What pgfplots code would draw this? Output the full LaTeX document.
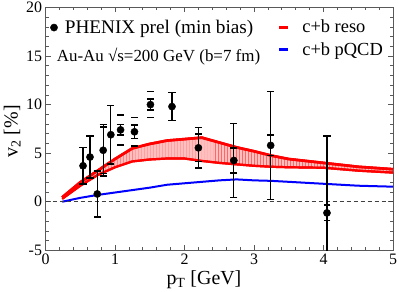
\documentclass[border=0pt]{standalone}
\usepackage{fontspec}
\setmainfont{Liberation Serif}
\usepackage{pgfplots}
\usepackage{pgfplotstable}
\pgfplotsset{compat=1.18}
\usepgfplotslibrary{fillbetween}
\usetikzlibrary{patterns,calc}

\pgfplotstableread{
x y stat
0.54 3.7 1.9
0.64 4.6 2.15
0.745 0.8 2.4
0.83 5.3 2.65
0.94 6.9 3.0
1.08 7.4 0.55
1.28 7.2 0.7
1.51 10.0 0.55
1.82 9.8 1.45
2.2 5.55 2.1
2.71 4.25 3.8
3.24 5.8 5.55
4.05 -1.15 7.9
}\phenix

\pgfplotstableread{
x y sys
0.745 0.8 2.3
0.83 5.3 2.4
1.08 7.4 1.55
1.28 7.2 1.45
1.51 10.0 1.35
2.2 5.55 1.4
2.71 4.25 1.3
3.24 5.8 1.05
4.05 -1.15 0.8
}\phenixsys

\pgfplotstableread{
x y
0.24 0.45
0.5 2.0
0.75 3.2
1.0 4.4
1.25 5.5
1.5 5.95
1.75 6.3
2.0 6.45
2.25 6.6
2.5 6.1
2.75 5.6
3.0 5.2
3.25 4.75
3.5 4.4
4.0 4.0
4.5 3.6
5.0 3.35
}\resoup

\pgfplotstableread{
x y
0.24 0.3
0.5 1.65
0.75 2.75
1.0 3.55
1.25 4.15
1.5 4.35
1.75 4.45
2.0 4.45
2.25 4.2
2.5 4.0
2.75 3.85
3.0 3.7
3.25 3.6
3.5 3.55
4.0 3.5
4.5 3.2
5.0 3.0
}\resolo

\pgfplotstableread{
x y
0.24 0.0
0.5 0.4
0.75 0.7
1.0 0.95
1.25 1.2
1.5 1.45
1.75 1.75
2.0 1.9
2.25 2.05
2.5 2.2
2.75 2.3
3.0 2.2
3.25 2.15
3.5 2.05
4.0 1.85
4.5 1.65
5.0 1.55
}\pqcd

\begin{document}
\begin{tikzpicture}
\begin{axis}[name=main,
  scale only axis, width=347.5bp, height=242.8bp,
  xmin=0, xmax=5, ymin=-5, ymax=20,
  xtick={0,1,2,3,4,5}, ytick={-5,0,5,10,15,20},
  minor x tick num=4, minor y tick num=4,
  tick align=inside, major tick length=5bp, minor tick length=3bp,
  axis line style={black!65, line width=0.8bp},
  tick style={black!65, line width=0.7bp},
  tick label style={font=\fontsize{16}{18}\selectfont},
  /pgf/number format/assume math mode=true,
  xlabel={p\textsubscript{T} [GeV]},
  ylabel={v\textsubscript{2} [\%]},
  label style={font=\fontsize{20}{22}\selectfont},
  xlabel style={at={(axis description cs:0.456,-0.139)}, anchor=base},
  ylabel style={at={(axis description cs:-0.096,0.49)}, anchor=center},
  legend style={draw=none, fill=none, at={(rel axis cs:0.668,0.957)}, anchor=north west,
    font=\fontsize{18.5}{20}\selectfont, row sep=4bp, legend cell align=left, inner sep=0pt,
    nodes={inner xsep=2bp}, /tikz/every odd column/.append style={column sep=11bp}},
  legend image code/.code={\draw[#1, line width=2.5bp] (0bp,0bp) -- (9bp,0bp);},
]
\addplot[name path=up, red, line width=2.6bp, forget plot] table {\resoup};
\addplot[name path=lo, red, line width=2.2bp, forget plot] table {\resolo};
\addplot[red!25, forget plot] fill between[of=up and lo];
\addplot[pattern=vertical lines, pattern color=red!60, draw=none, forget plot] fill between[of=up and lo];
\addplot[red, line width=2.6bp, forget plot] table {\resoup};
\addplot[red, line width=2.2bp, forget plot] table {\resolo};
\addplot[blue, line width=2bp, forget plot] table {\pqcd};
\addplot[black!75, dash pattern=on 4bp off 3bp, line width=0.7bp, forget plot] coordinates {(0,0) (5,0)};
\addlegendimage{red}
\addlegendentry{c+b reso}
\addlegendimage{blue}
\addlegendentry{c+b pQCD}
\node[anchor=base west, font=\fontsize{17}{19}\selectfont, inner sep=0pt] at (rel axis cs:0.032,0.777) {Au-Au √s=200 GeV (b=7 fm)};
\end{axis}
\begin{axis}[
  scale only axis, width=347.5bp, height=242.8bp,
  xmin=0, xmax=5, ymin=-5, ymax=20, hide axis,
  legend style={draw=none, fill=none, at={(rel axis cs:0.013,0.957)}, anchor=north west,
    font=\fontsize{19.3}{21}\selectfont, legend cell align=left, inner sep=0pt,
    nodes={inner xsep=2bp}, /tikz/every odd column/.append style={column sep=5bp}},
  legend image code/.code={\fill[black] (4bp,0bp) circle (3.6bp);},
]
\addplot[only marks, mark=*, mark size=3.6bp, black,
  error bars/.cd, y dir=both, y explicit, error mark=|,
  error bar style={line width=1.3bp, black},
  error mark options={mark size=3.6bp, line width=1.6bp, black}]
  table[x=x, y=y, y error=stat] {\phenix};
\addlegendentry{PHENIX prel (min bias)}
\addplot[only marks, mark=-, mark size=3.4bp, mark options={line width=1.5bp}, black, forget plot]
  table[x=x, y expr=\thisrow{y}+\thisrow{sys}] {\phenixsys};
\addplot[only marks, mark=-, mark size=3.4bp, mark options={line width=1.5bp}, black, forget plot]
  table[x=x, y expr=\thisrow{y}-\thisrow{sys}] {\phenixsys};
\end{axis}
\pgfresetboundingbox
\path ($(main.south west)+(-45.5bp,-41.7bp)$) rectangle ($(main.north east)+(6bp,7.5bp)$);
\end{tikzpicture}
\end{document}
